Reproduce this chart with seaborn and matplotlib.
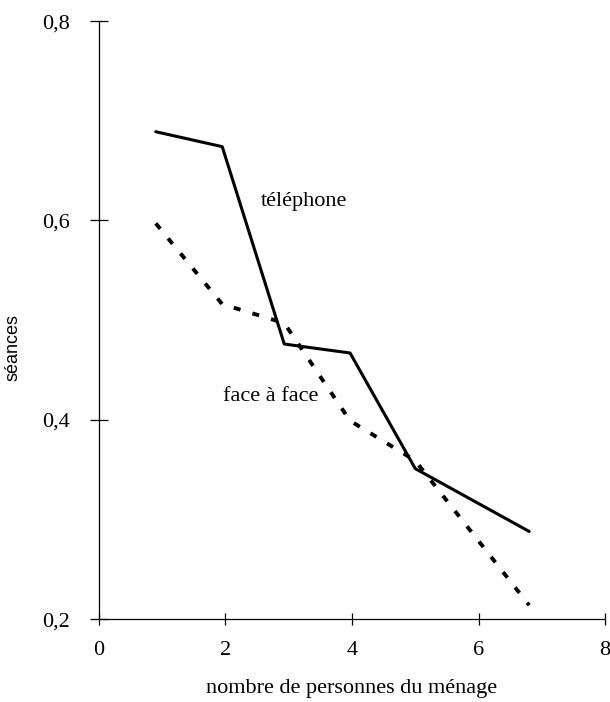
import matplotlib
matplotlib.use("Agg")
import matplotlib.pyplot as plt
import seaborn as sns
import pandas as pd

# data
taille_menage = [0.9, 1.95, 2.93, 3.97, 5.0, 6.8]
telephone = [0.689, 0.674, 0.476, 0.467, 0.351, 0.288]
face_a_face = [0.597, 0.516, 0.497, 0.399, 0.359, 0.214]
x_ticks = [0, 2, 4, 6, 8]
y_ticks = [0.2, 0.4, 0.6, 0.8]
y_tick_labels = ["0,2", "0,4", "0,6", "0,8"]

sns.set_theme(style="white")
plt.rcParams["font.family"] = ["Liberation Serif", "DejaVu Serif"]

df_tel = pd.DataFrame({"x": taille_menage, "y": telephone})
df_face = pd.DataFrame({"x": taille_menage, "y": face_a_face})

fig = plt.figure(figsize=(6.1, 7.02), dpi=100)
ax = fig.add_axes([0.162, 0.118, 0.83, 0.852])

sns.lineplot(data=df_tel, x="x", y="y", ax=ax, color="black", linewidth=2.2,
             sort=False)
sns.lineplot(data=df_face, x="x", y="y", ax=ax, color="black", linewidth=2.8,
             sort=False, dashes=False)
ax.lines[-1].set_dashes([1.8, 3.2])

ax.set_xlim(0, 8)
ax.set_ylim(0.2, 0.8)
ax.set_xticks(x_ticks)
ax.set_xticklabels([str(v) for v in x_ticks], fontsize=16)
ax.set_yticks(y_ticks)
ax.set_yticklabels(y_tick_labels, fontsize=16)

for s in ["top", "right"]:
    ax.spines[s].set_visible(False)
for s in ["left", "bottom"]:
    ax.spines[s].set_color("black")
    ax.spines[s].set_linewidth(0.9)

ax.tick_params(axis="x", direction="inout", length=9, width=0.9,
               color="black", pad=11, labelcolor="black")
ax.tick_params(axis="y", direction="inout", length=13, width=0.9,
               color="black", pad=14, labelcolor="black")
ax.tick_params(bottom=True, left=True)

ax.set_xlabel("nombre de personnes du ménage", fontsize=16, labelpad=14,
              color="black")
ax.set_ylabel("séances", fontsize=13, family=["Liberation Sans", "DejaVu Sans"],
              color="black")
ax.yaxis.set_label_coords(-0.152, 0.455)

ax.text(3.24, 0.619, "téléphone", fontsize=16, ha="center", va="center",
        color="black")
ax.text(2.71, 0.423, "face à face", fontsize=16, ha="center", va="center",
        color="black")

fig.savefig("out.png", dpi=100, facecolor="white")
